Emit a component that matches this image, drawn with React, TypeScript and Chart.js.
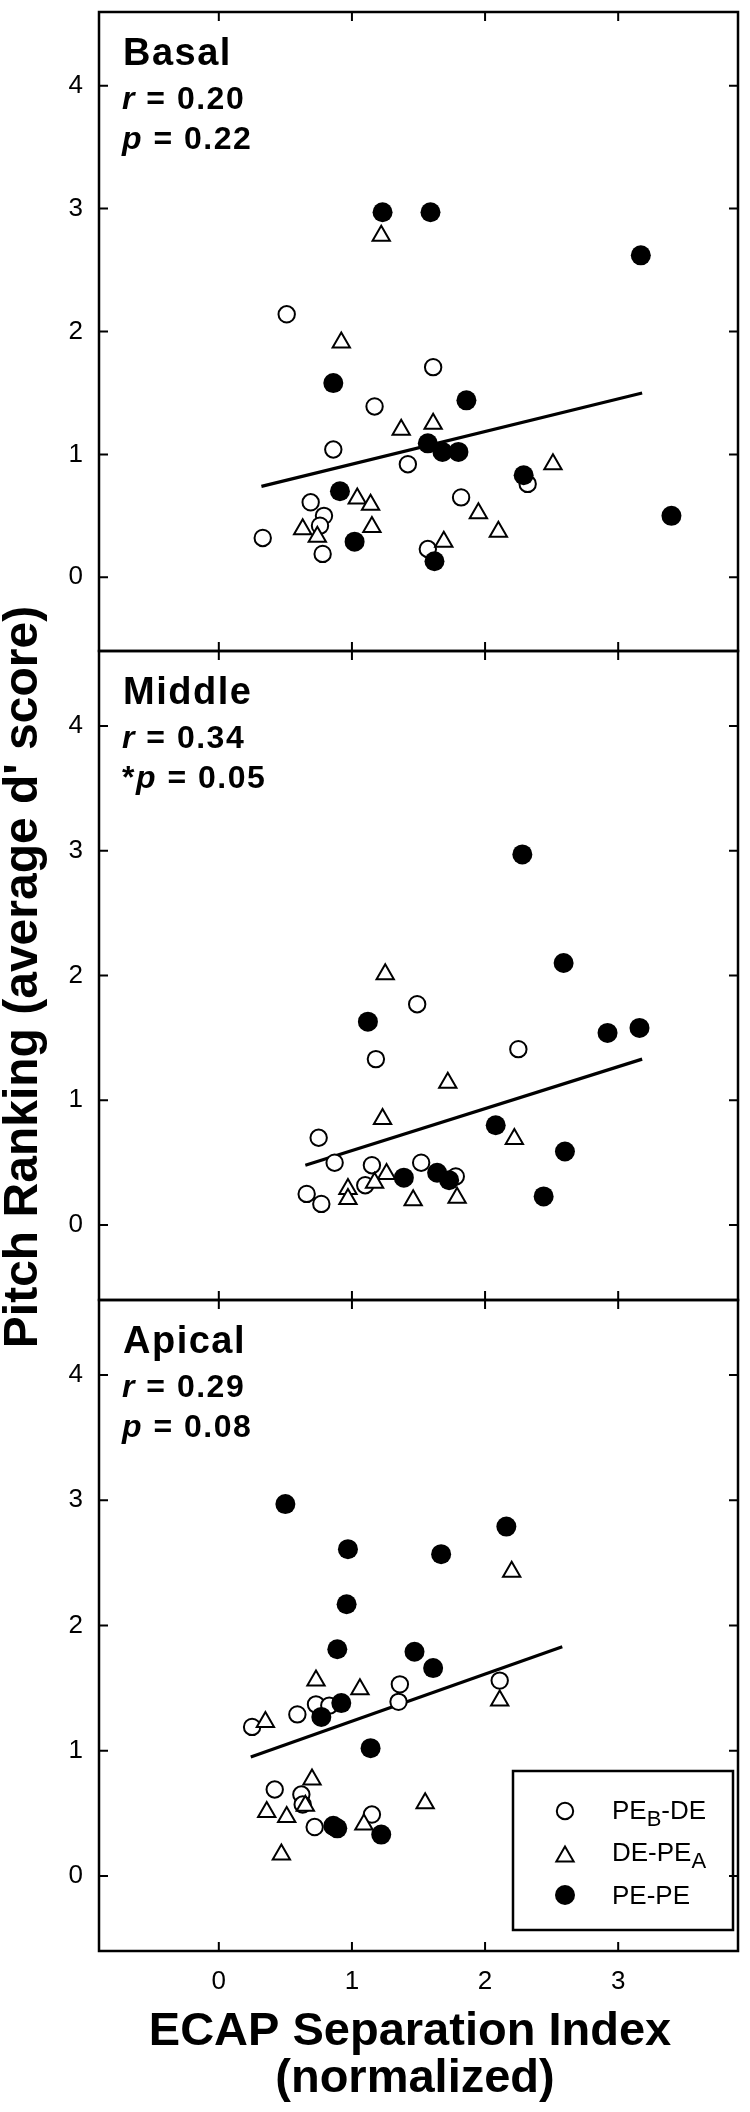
import React, { useEffect, useRef } from 'react';
import { Chart, registerables } from 'chart.js';

Chart.register(...registerables);

const FONT = "'Liberation Sans', Arial, Helvetica, sans-serif";
const PAGE_W = 750;
const PAGE_H = 2112;

// ---------- tick labels ----------
const xTicks = [0, 1, 2, 3];
const yTicks = [0, 1, 2, 3, 4];

// ---------- series names ----------
const seriesNames = ['PE_B-DE', 'DE-PE_A', 'PE-PE'];

// ---------- Basal ----------
const basalPEBDE_x = [0.51, 1.61, 1.17, 0.86, 1.42, 1.82, 2.32, 0.69, 0.79, 0.76, 0.33, 0.78, 1.57];
const basalPEBDE_y = [2.14, 1.71, 1.39, 1.04, 0.92, 0.65, 0.76, 0.61, 0.5, 0.42, 0.32, 0.19, 0.23];
const basalDEPEA_x = [1.22, 0.92, 1.61, 1.37, 2.51, 1.04, 1.14, 1.95, 0.63, 1.15, 0.74, 2.1, 1.69];
const basalDEPEA_y = [2.78, 1.91, 1.25, 1.2, 0.92, 0.64, 0.59, 0.52, 0.39, 0.41, 0.33, 0.37, 0.29];
const basalPEPE_x = [1.23, 1.59, 3.17, 0.86, 1.86, 1.57, 1.68, 1.8, 2.29, 0.91, 1.02, 1.62, 3.4];
const basalPEPE_y = [2.97, 2.97, 2.62, 1.58, 1.44, 1.09, 1.02, 1.02, 0.83, 0.7, 0.29, 0.13, 0.5];
const basalFit_x = [0.32, 3.18];
const basalFit_y = [0.74, 1.5];

// ---------- Middle ----------
const middlePEBDE_x = [1.49, 1.18, 2.25, 0.75, 0.87, 1.15, 1.52, 1.78, 0.66, 0.77, 1.1];
const middlePEBDE_y = [1.77, 1.33, 1.41, 0.7, 0.5, 0.48, 0.5, 0.39, 0.25, 0.17, 0.32];
const middleDEPEA_x = [1.25, 1.72, 1.23, 2.22, 1.26, 1.17, 0.97, 0.97, 1.46, 1.79];
const middleDEPEA_y = [2.01, 1.14, 0.85, 0.69, 0.41, 0.34, 0.29, 0.21, 0.2, 0.22];
const middlePEPE_x = [2.28, 2.59, 1.12, 2.92, 3.16, 2.08, 2.6, 1.39, 1.64, 1.73, 2.44];
const middlePEPE_y = [2.97, 2.1, 1.63, 1.54, 1.58, 0.8, 0.59, 0.38, 0.42, 0.36, 0.23];
const middleFit_x = [0.65, 3.18];
const middleFit_y = [0.48, 1.33];

// ---------- Apical ----------
const apicalPEBDE_x = [2.11, 1.36, 1.35, 0.73, 0.83, 0.59, 0.25, 0.42, 0.62, 0.63, 0.72, 1.15];
const apicalPEBDE_y = [1.56, 1.53, 1.39, 1.37, 1.36, 1.29, 1.19, 0.69, 0.65, 0.57, 0.39, 0.49];
const apicalDEPEA_x = [2.2, 0.73, 1.06, 0.35, 2.11, 0.7, 0.65, 1.55, 0.36, 0.51, 1.09, 0.47];
const apicalDEPEA_y = [2.43, 1.56, 1.49, 1.23, 1.4, 0.77, 0.56, 0.58, 0.51, 0.47, 0.41, 0.17];
const apicalPEPE_x = [0.5, 0.97, 1.67, 2.16, 0.96, 0.89, 1.47, 1.61, 0.92, 0.77, 1.14, 0.86, 0.89, 1.22];
const apicalPEPE_y = [2.97, 2.61, 2.57, 2.79, 2.17, 1.81, 1.79, 1.66, 1.38, 1.27, 1.02, 0.4, 0.38, 0.33];
const apicalFit_x = [0.24, 2.58];
const apicalFit_y = [0.95, 1.83];

// ---------- panel texts ----------
const panelNames = ['Basal', 'Middle', 'Apical'];
const rValues = ['0.20', '0.34', '0.29'];
const pValues = ['0.22', '0.05', '0.08'];
const pMarks = ['', '*', ''];
const xTitleLines = ['ECAP Separation Index', '(normalized)'];
const yTitle = "Pitch Ranking (average d' score)";

const panelSeries = [
  [[basalPEBDE_x, basalPEBDE_y], [basalDEPEA_x, basalDEPEA_y], [basalPEPE_x, basalPEPE_y], [basalFit_x, basalFit_y]],
  [[middlePEBDE_x, middlePEBDE_y], [middleDEPEA_x, middleDEPEA_y], [middlePEPE_x, middlePEPE_y], [middleFit_x, middleFit_y]],
  [[apicalPEBDE_x, apicalPEBDE_y], [apicalDEPEA_x, apicalDEPEA_y], [apicalPEPE_x, apicalPEPE_y], [apicalFit_x, apicalFit_y]],
];

// ---------- layout (page pixels) ----------
const PANEL_TOP = [2, 651, 1300];
const PANEL_BOTTOM = [651, 1300, 1951];
const AREA_LEFT = 99;
const AREA_RIGHT = 747;

const pts = (xs: number[], ys: number[]) => xs.map((x, k) => ({ x, y: ys[k] }));

function drawRuns(ctx: CanvasRenderingContext2D, runs: Array<[string, string, number]>, x: number, y: number) {
  let cx = x;
  for (const [font, txt, dy] of runs) {
    ctx.font = font;
    ctx.fillText(txt, cx, y + dy);
    cx += ctx.measureText(txt).width;
  }
}

function drawMarker(ctx: CanvasRenderingContext2D, kind: number, x: number, y: number) {
  ctx.beginPath();
  if (kind === 0) {
    ctx.arc(x, y, 8.2, 0, Math.PI * 2);
    ctx.fillStyle = '#fff';
    ctx.fill();
    ctx.lineWidth = 2;
    ctx.strokeStyle = '#000';
    ctx.stroke();
  } else if (kind === 1) {
    const r = 10;
    for (let k = 0; k < 3; k++) {
      const a = (k * 2 * Math.PI) / 3;
      const px = x + Math.sin(a) * r;
      const py = y - Math.cos(a) * r;
      if (k === 0) ctx.moveTo(px, py);
      else ctx.lineTo(px, py);
    }
    ctx.closePath();
    ctx.fillStyle = '#fff';
    ctx.fill();
    ctx.lineWidth = 2;
    ctx.strokeStyle = '#000';
    ctx.stroke();
  } else {
    ctx.arc(x, y, 10, 0, Math.PI * 2);
    ctx.fillStyle = '#000';
    ctx.fill();
  }
}

function makeDecor(i: number) {
  return {
    id: 'decor' + i,
    afterDraw(chart: any) {
      const ctx: CanvasRenderingContext2D = chart.ctx;
      const { left, right, top, bottom } = chart.chartArea;
      const xs = chart.scales.x;
      const ys = chart.scales.y;
      ctx.save();
      ctx.strokeStyle = '#000';
      ctx.fillStyle = '#000';
      // frame
      ctx.lineWidth = 2.5;
      ctx.strokeRect(left, top, right - left, bottom - top);
      // inward ticks
      ctx.lineWidth = 2;
      ctx.beginPath();
      xs.ticks.forEach((t: any) => {
        const px = xs.getPixelForValue(t.value);
        ctx.moveTo(px, top);
        ctx.lineTo(px, top + 9);
        ctx.moveTo(px, bottom);
        ctx.lineTo(px, bottom - 9);
      });
      ys.ticks.forEach((t: any) => {
        const py = ys.getPixelForValue(t.value);
        ctx.moveTo(left, py);
        ctx.lineTo(left + 9, py);
        ctx.moveTo(right, py);
        ctx.lineTo(right - 9, py);
      });
      ctx.stroke();

      // panel annotation
      ctx.textAlign = 'left';
      ctx.textBaseline = 'alphabetic';
      (ctx as any).letterSpacing = '1.5px';
      ctx.font = `bold 38px ${FONT}`;
      ctx.fillText(panelNames[i], 123, top + 53);
      const b = `bold 32px ${FONT}`;
      const bi = `italic bold 32px ${FONT}`;
      drawRuns(ctx, [[bi, 'r', 0], [b, ' = ' + rValues[i], 0]], 122, top + 97);
      const runs: Array<[string, string, number]> = [];
      if (pMarks[i]) runs.push([b, pMarks[i], 0]);
      runs.push([bi, 'p', 0]);
      runs.push([b, ' = ' + pValues[i], 0]);
      drawRuns(ctx, runs, 122, top + 137);
      (ctx as any).letterSpacing = '0px';

      if (i === 1) {
        // shared y-axis title
        ctx.save();
        ctx.translate(37, 977);
        ctx.rotate(-Math.PI / 2);
        ctx.textAlign = 'center';
        ctx.font = `bold 48px ${FONT}`;
        ctx.fillText(yTitle, 0, 0);
        ctx.restore();
      }

      if (i === 2) {
        // x-axis title
        ctx.textAlign = 'center';
        ctx.font = `bold 47px ${FONT}`;
        ctx.fillText(xTitleLines[0], 410, 2045);
        ctx.fillText(xTitleLines[1], 415, 2092);

        // legend
        ctx.lineWidth = 2.5;
        ctx.strokeStyle = '#000';
        ctx.strokeRect(513, 1771, 220, 159);
        const rowY = [1811, 1854, 1895];
        const baseY = [1819, 1861, 1904];
        const mainF = `26px ${FONT}`;
        const subF = `22px ${FONT}`;
        ctx.textAlign = 'left';
        seriesNames.forEach((name, k) => {
          drawMarker(ctx, k, 565, k === 1 ? rowY[k] + 2.5 : rowY[k]);
          ctx.fillStyle = '#000';
          const parts = name.split('_');
          if (parts.length === 1) {
            drawRuns(ctx, [[mainF, name, 0]], 612, baseY[k]);
          } else {
            const main = parts[0];
            const sub = parts[1].charAt(0);
            const rest = parts[1].slice(1);
            drawRuns(ctx, [[mainF, main, 0], [subF, sub, 7], [mainF, rest, 0]], 612, baseY[k]);
          }
        });
      }
      ctx.restore();
    },
  };
}

function buildConfig(i: number) {
  const s = panelSeries[i];
  const isLast = i === 2;
  return {
    type: 'scatter' as const,
    data: {
      datasets: [
        {
          label: seriesNames[2],
          data: pts(s[2][0], s[2][1]),
          pointStyle: 'circle',
          pointRadius: 10,
          pointBackgroundColor: '#000',
          pointBorderColor: '#000',
          pointBorderWidth: 0,
          order: 1,
        },
        {
          label: seriesNames[1],
          data: pts(s[1][0], s[1][1]),
          pointStyle: 'triangle',
          pointRadius: 10,
          pointBackgroundColor: '#fff',
          pointBorderColor: '#000',
          pointBorderWidth: 2,
          order: 2,
        },
        {
          label: seriesNames[0],
          data: pts(s[0][0], s[0][1]),
          pointStyle: 'circle',
          pointRadius: 8.2,
          pointBackgroundColor: '#fff',
          pointBorderColor: '#000',
          pointBorderWidth: 2,
          order: 3,
        },
        {
          label: 'fit',
          data: pts(s[3][0], s[3][1]),
          showLine: true,
          pointRadius: 0,
          borderColor: '#000',
          borderWidth: 3.2,
          fill: false,
          order: 4,
        },
      ],
    },
    options: {
      animation: false,
      responsive: false,
      devicePixelRatio: 1,
      events: [],
      layout: {
        padding: {
          left: 0,
          right: PAGE_W - AREA_RIGHT,
          top: PANEL_TOP[i],
          bottom: isLast ? 0 : PAGE_H - PANEL_BOTTOM[i],
        },
      },
      plugins: { legend: { display: false }, tooltip: { enabled: false }, title: { display: false } },
      scales: {
        x: {
          type: 'linear',
          min: -0.9,
          max: 3.9,
          grid: { display: false, drawTicks: false },
          border: { display: false },
          ticks: { display: isLast, color: '#000', padding: 15, font: { family: FONT, size: 26 } },
          afterBuildTicks: (sc: any) => {
            sc.ticks = xTicks.map((v) => ({ value: v }));
          },
          afterFit: (sc: any) => {
            sc.height = isLast ? PAGE_H - PANEL_BOTTOM[i] : 0;
            sc.paddingLeft = 0;
            sc.paddingRight = 0;
          },
        },
        y: {
          type: 'linear',
          min: -0.6,
          max: 4.6,
          grid: { display: false, drawTicks: false },
          border: { display: false },
          ticks: { color: '#000', padding: 16, font: { family: FONT, size: 26 } },
          afterBuildTicks: (sc: any) => {
            sc.ticks = yTicks.map((v) => ({ value: v }));
          },
          afterFit: (sc: any) => {
            sc.width = AREA_LEFT;
            sc.paddingTop = 0;
            sc.paddingBottom = 0;
          },
        },
      },
    },
    plugins: [makeDecor(i)],
  };
}

export default function App() {
  const r0 = useRef<HTMLCanvasElement>(null);
  const r1 = useRef<HTMLCanvasElement>(null);
  const r2 = useRef<HTMLCanvasElement>(null);

  useEffect(() => {
    const refs = [r0, r1, r2];
    const charts = refs.map((r, i) => new Chart(r.current as HTMLCanvasElement, buildConfig(i) as any));
    return () => charts.forEach((c) => c.destroy());
  }, []);

  const cs: React.CSSProperties = { position: 'absolute', left: 0, top: 0, width: PAGE_W, height: PAGE_H, display: 'block' };
  return (
    <div style={{ position: 'absolute', left: 0, top: 0, width: PAGE_W, height: PAGE_H, background: '#fff' }}>
      <canvas ref={r0} width={PAGE_W} height={PAGE_H} style={cs} />
      <canvas ref={r1} width={PAGE_W} height={PAGE_H} style={cs} />
      <canvas ref={r2} width={PAGE_W} height={PAGE_H} style={cs} />
    </div>
  );
}
